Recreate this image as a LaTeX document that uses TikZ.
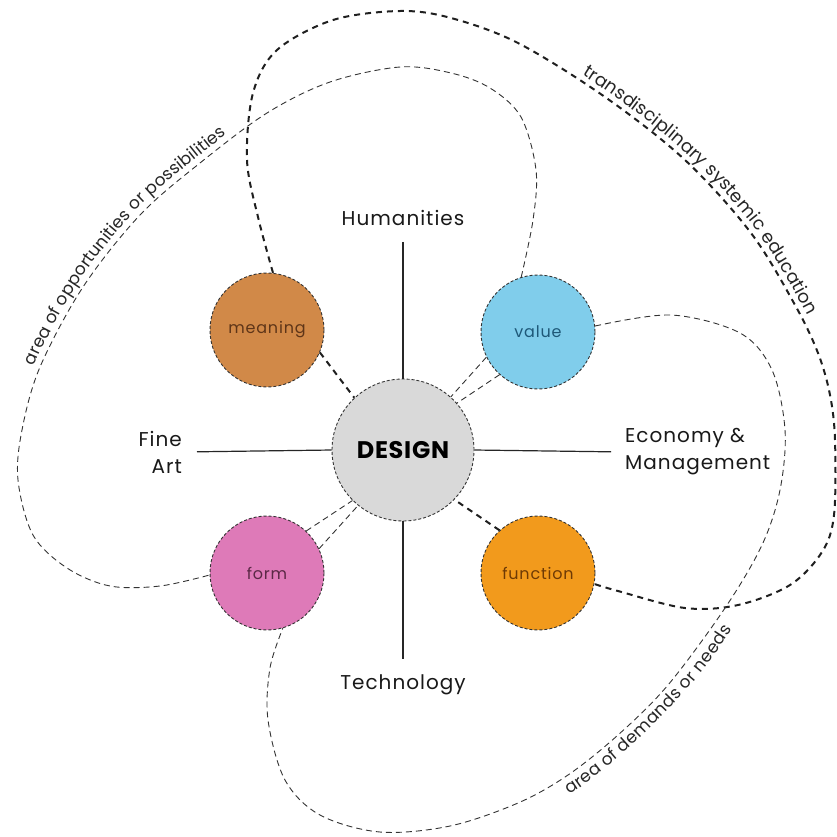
\documentclass[tikz,border=0pt]{standalone}
\usepackage{fontspec}
\setmainfont{Poppins}
\usetikzlibrary{decorations.text}
\definecolor{cmean}{HTML}{D18948}
\definecolor{cval}{HTML}{80CDEB}
\definecolor{cform}{HTML}{DE7AB8}
\definecolor{cfun}{HTML}{F29A1C}
\definecolor{cdes}{HTML}{D9D9D9}
\definecolor{tmean}{HTML}{5E3518}
\definecolor{tval}{HTML}{1E5878}
\definecolor{tform}{HTML}{5A2845}
\definecolor{tfun}{HTML}{6E3A05}
\begin{document}
\begin{tikzpicture}[x=1pt,y=-1pt,
  bub/.style={circle, draw=black!80, dash pattern=on 3pt off 2pt, line width=0.9pt,
    inner sep=0pt, minimum size=114pt, font=\fontsize{16}{16}\selectfont\addfontfeature{LetterSpace=5}},
  thickdash/.style={line width=2pt, dash pattern=on 6pt off 5pt, draw=black!88},
  thindash/.style={line width=0.9pt, dash pattern=on 6pt off 4pt, draw=black!80},
  axis/.style={line width=1.2pt, draw=black!85},
  lab/.style={font=\fontsize{20}{27}\selectfont\addfontfeature{LetterSpace=5}, text=black!90, inner sep=0pt},
  curvtext/.style 2 args={decorate, decoration={text along path, text align=center,
    text={|\fontsize{#1}{#1}\selectfont\color{black!85}|#2}}}
]
\useasboundingbox (0,0) rectangle (837,836);

% nodes
\node[bub, fill=cdes, minimum size=142pt, font=\fontsize{24}{24}\selectfont\bfseries\addfontfeature{LetterSpace=3}] (design) at (403,450) {DESIGN};
\node[bub, fill=cmean, text=tmean] (meaning) at (267,330) {meaning};
\node[bub, fill=cval, text=tval] (value) at (538,332) {value};
\node[bub, fill=cform, text=tform] (form) at (267,573) {form};
\node[bub, fill=cfun, text=tfun] (function) at (538,573) {function};

\node[lab] (hum) at (403,218) {Humanities};
\node[lab] (tech) at (403,685) {Technology};
\node[lab, anchor=east, align=right] (fine) at (182,452) {Fine\\Art};
\node[lab, anchor=west, align=left] (econ) at (625,452) {Economy \&\\Management};

% axes
\draw[axis, shorten <=16pt] (hum.south) -- (design.north);
\draw[axis, shorten >=16pt] (design.south) -- (tech.north);
\draw[axis, shorten <=15pt] (fine.east) -- (design.west);
\draw[axis, shorten >=14pt] (design.east) -- (econ.west);

% connectors to DESIGN
\draw[thickdash] (meaning.-23) -- (design.133);
\draw[thickdash] (function.132) -- (design.-44);
\draw[thindash] (value.206) -- (design.48);
\draw[thindash] (value.228) -- (design.41);
\draw[thindash] (form.47) -- (design.225);
\draw[thindash] (form.25) -- (design.231);

% thick loop: transdisciplinary systemic education
\draw[thickdash] plot[smooth, tension=0.55] coordinates {(meaning.84) (258,217) (247,160) (253,93) (277,50) (333,20) (400,11) (451,18) (518,43) (605,97) (685,160) (751,233) (795,305) (818,353) (830,395) (835,440) (834,515) (822,552) (790,585) (738,605) (685,608) (618,591) (function.-11)};

% thin loop A: opportunities
\draw[thindash] plot[smooth, tension=0.55] coordinates {(value.107) (533,220) (536,170) (521,117) (490,88) (451,73) (400,67) (330,82) (267,113) (200,163) (140,215) (83,287) (40,367) (22,430) (18,480) (33,535) (67,568) (110,586) (160,586) (form.182)};

% thin loop B: demands
\draw[thindash] plot[smooth, tension=0.55] coordinates {(value.6) (671,315) (740,333) (772,370) (785,430) (780,490) (762,545) (725,608) (668,685) (618,735) (568,775) (518,803) (450,826) (380,832) (320,815) (285,780) (268,720) (270,668) (form.-74)};

% curved texts
\path[curvtext={18}{transdisciplinary systemic education}, decoration={raise=6pt}]
  plot[smooth, tension=0.55] coordinates {(518,43) (605,97) (685,160) (751,233) (795,305) (818,353) (828,385)};
\path[curvtext={17}{area of opportunities or possibilities}, decoration={raise=6pt}]
  plot[smooth, tension=0.55] coordinates {(19,470) (22,430) (40,367) (83,287) (140,215) (200,163) (267,113) (320,86)};
\path[curvtext={17}{area of demands or needs}, decoration={raise=-17pt}]
  plot[smooth, tension=0.55] coordinates {(468,821) (518,803) (568,775) (618,735) (668,685) (701,645) (725,608) (751,568) (767,533)};
\end{tikzpicture}
\end{document}
